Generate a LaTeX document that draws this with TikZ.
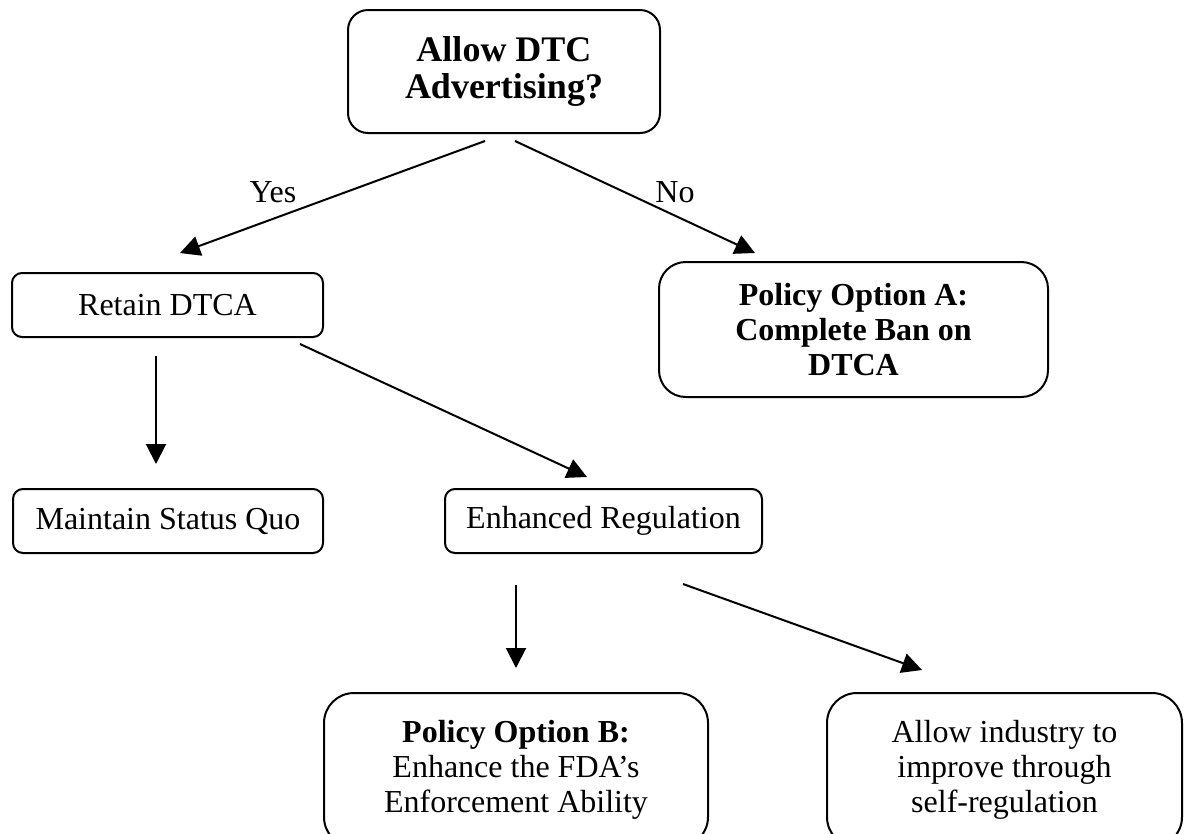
\documentclass[tikz,border=0pt]{standalone}
\usepackage{fontspec}
\setmainfont{Liberation Serif}
\usetikzlibrary{arrows.meta}
\begin{document}
\begin{tikzpicture}[x=0.75pt,y=-0.75pt,
  box/.style={draw, line width=1.5pt, align=center, inner sep=0pt, font=\fontsize{24}{26.25}\selectfont},
  arr/.style={line width=1.5pt, -{Triangle[length=15pt,width=15pt]}},
  lbl/.style={font=\fontsize{24}{26.25}\selectfont, inner sep=0pt}]
\useasboundingbox (0,0) rectangle (1186,833);
\begin{scope}
\clip (0,0) rectangle (1186,833);
\node[box, rounded corners=15pt, minimum width=234pt, minimum height=92.25pt, font=\fontsize{27}{27.75}\selectfont\bfseries] (q) at (504,71.5) {Allow DTC\\Advertising?};
\node[box, rounded corners=7.5pt, minimum width=233.25pt, minimum height=48pt] (retain) at (167.5,305) {Retain DTCA};
\node[box, rounded corners=20pt, minimum width=291.75pt, minimum height=101.25pt, font=\fontsize{24}{26.25}\selectfont\bfseries] (pa) at (853.5,329.5) {Policy Option A:\\Complete Ban on\\DTCA};
\node[box, rounded corners=7.5pt, minimum width=232.5pt, minimum height=48pt] (sq) at (168,521) {Maintain Status Quo};
\node[box, rounded corners=7.5pt, minimum width=237.75pt, minimum height=48pt] (er) at (603.5,521) {Enhanced Regulation};
\node[box, rounded corners=22.5pt, minimum width=288pt, minimum height=115.5pt] (pb) at (516,770) {\textbf{Policy Option B:}\\Enhance the FDA’s\\Enforcement Ability};
\node[box, rounded corners=22.5pt, minimum width=266.25pt, minimum height=115.5pt] (ind) at (1004.5,770) {Allow industry to\\improve through\\self-regulation};
\end{scope}
\node[lbl] (yes) at (273,192) {Yes};
\node[lbl] (no) at (675,192) {No};
\coordinate (qyes) at (485,141);
\coordinate (retaintop) at (180,253);
\coordinate (qno) at (515,141);
\coordinate (patop) at (755,253);
\coordinate (retaindown) at (156,356);
\coordinate (sqtop) at (156,464);
\coordinate (retaindiag) at (300,344);
\coordinate (ertop) at (587,477);
\coordinate (erdown) at (516,585);
\coordinate (pbtop) at (516,668);
\coordinate (erdiag) at (683,584);
\coordinate (indtop) at (922,670);
\draw[arr] (qyes) -- (retaintop);
\draw[arr] (qno) -- (patop);
\draw[arr] (retaindown) -- (sqtop);
\draw[arr] (retaindiag) -- (ertop);
\draw[arr] (erdown) -- (pbtop);
\draw[arr] (erdiag) -- (indtop);
\end{tikzpicture}
\end{document}
